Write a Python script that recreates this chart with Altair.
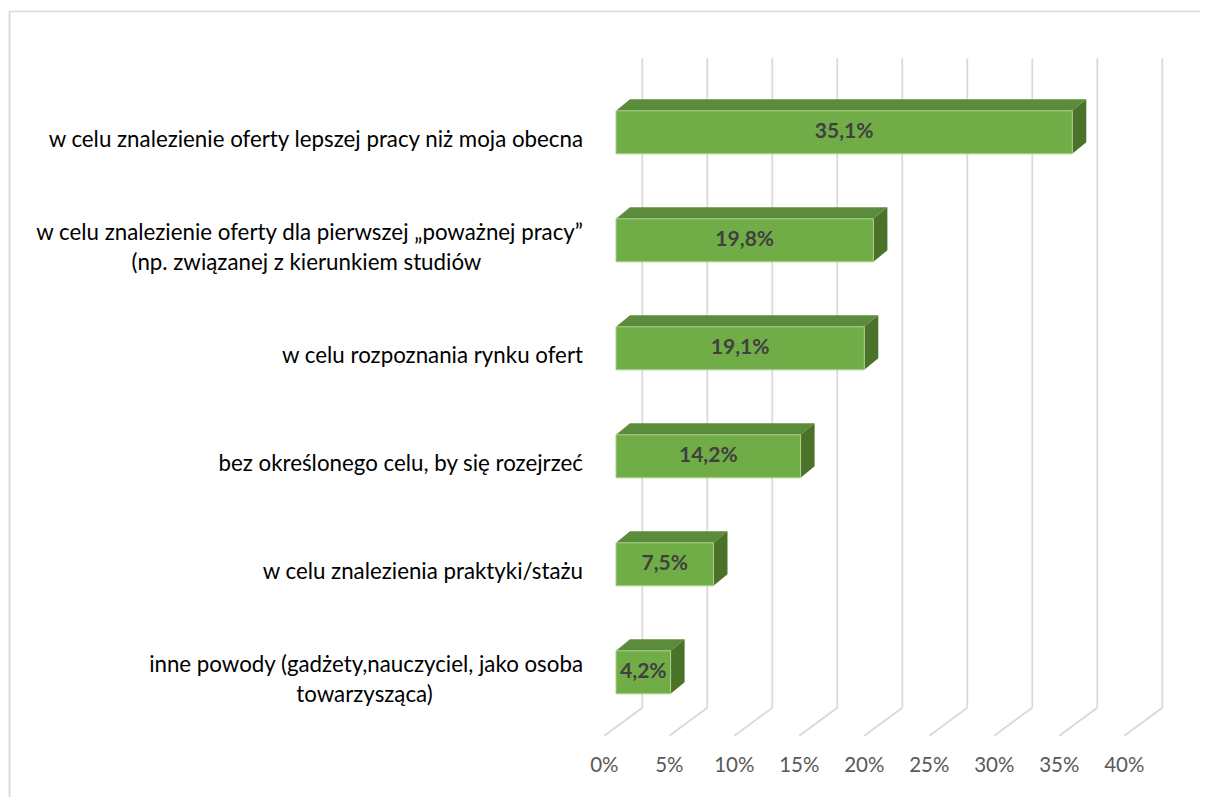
import altair as alt
import pandas as pd

# ---------------- data ----------------
category_lines = [
    ["w celu znalezienie oferty lepszej pracy niż moja obecna"],
    ["w celu znalezienie oferty dla pierwszej „poważnej pracy”", "(np. związanej z kierunkiem studiów"],
    ["w celu rozpoznania rynku ofert"],
    ["bez określonego celu, by się rozejrzeć"],
    ["w celu znalezienia praktyki/stażu"],
    ["inne powody (gadżety,nauczyciel, jako osoba", "towarzysząca)"],
]
values = [35.1, 19.8, 19.1, 14.2, 7.5, 4.2]
value_labels = ["35,1%", "19,8%", "19,1%", "14,2%", "7,5%", "4,2%"]
tick_values = [0, 5, 10, 15, 20, 25, 30, 35, 40]
tick_labels = ["0%", "5%", "10%", "15%", "20%", "25%", "30%", "35%", "40%"]

# ---------------- layout (pixels) ----------------
W, H = 1192, 789
X0 = 608.0          # x of 0% on the bars' front plane
PX = 13.0           # pixels per percent
Y0 = 124.3          # centre of first bar
STEP = 108.0        # distance between bars
BAR_H = 43.0
DEPTH_DX, DEPTH_DY = 14.0, 11.5
WALL_DX = 26.3
FLOOR_DX = -11.7
GRID_TOP = 50.3
WALL_BOTTOM = 699.7
FLOOR_FRONT = 727.7
TICK_Y = 758.0
LABEL_GAP = 33.0
LABEL_DY = 8.0
LINE_H = 30.0
LINE1_W = {1: 553.0, 5: 437.0}   # approx. width of first line of wrapped labels

FONT = "Lato"
FRONT = "#70AD47"
TOP = "#5B8C3B"
SIDE = "#4A7229"
GRID = "#D9D9D9"

xs = alt.Scale(domain=[-X0 / PX, (W - X0) / PX], nice=False, zero=False)
ys = alt.Scale(domain=[-Y0 / STEP, (H - Y0) / STEP], nice=False, zero=False, reverse=True)

dxp = DEPTH_DX / PX
dyi = DEPTH_DY / STEP
half = BAR_H / 2 / STEP

bars = pd.DataFrame({
    "idx": list(range(len(values))),
    "value": values,
    "label": value_labels,
})
bars["zero"] = 0.0
bars["top"] = bars["idx"] - half
bars["bot"] = bars["idx"] + half
bars["mid"] = bars["value"] / 2

top_rows, side_rows = [], []
for i, v in enumerate(values):
    t, b = i - half, i + half
    top_rows.append({"idx": i, "y": t, "x": 0.0, "x2": v})
    top_rows.append({"idx": i, "y": t - dyi, "x": dxp, "x2": v + dxp})
    side_rows.append({"idx": i, "x": v, "y": t, "y2": b})
    side_rows.append({"idx": i, "x": v + dxp, "y": t - dyi, "y2": b - dyi})
top_df = pd.DataFrame(top_rows)
side_df = pd.DataFrame(side_rows)

ticks = pd.DataFrame({"v": tick_values, "label": tick_labels})

right_edge = -LABEL_GAP / PX
line1_rows, line2_rows = [], []
for i, lines in enumerate(category_lines):
    if len(lines) == 1:
        line1_rows.append({"x": right_edge, "y": i + LABEL_DY / STEP, "t": lines[0]})
    else:
        line1_rows.append({"x": right_edge, "y": i + (LABEL_DY - LINE_H / 2) / STEP, "t": lines[0]})
        cx = right_edge - LINE1_W[i] / 2 / PX
        line2_rows.append({"x": cx, "y": i + (LABEL_DY + LINE_H / 2) / STEP, "t": lines[1]})
line1_df = pd.DataFrame(line1_rows)
line2_df = pd.DataFrame(line2_rows)

# ---------------- layers ----------------
one = alt.Data(values=[{}])
frame_top = alt.Chart(one).mark_rule(color=GRID, strokeWidth=1.3).encode(
    x=alt.value(1), x2=alt.value(W + 20), y=alt.value(3.5)
)
frame_left = alt.Chart(one).mark_rule(color=GRID, strokeWidth=1.8).encode(
    x=alt.value(1.5), y=alt.value(3.5), y2=alt.value(H + 20)
)

grid = alt.Chart(ticks).mark_rule(color=GRID, strokeWidth=1.8, xOffset=WALL_DX).encode(
    x=alt.X("v:Q", scale=xs, axis=None),
    y=alt.value(GRID_TOP), y2=alt.value(WALL_BOTTOM),
)
diag = alt.Chart(ticks).mark_rule(color=GRID, strokeWidth=1.8, xOffset=WALL_DX, x2Offset=FLOOR_DX).encode(
    x=alt.X("v:Q", scale=xs, axis=None), x2="v:Q",
    y=alt.value(WALL_BOTTOM), y2=alt.value(FLOOR_FRONT),
)

top_face = alt.Chart(top_df).mark_area(orient="horizontal", color=TOP).encode(
    y=alt.Y("y:Q", scale=ys, axis=None),
    x=alt.X("x:Q", scale=xs, axis=None, stack=None), x2="x2:Q",
    detail="idx:N",
)
side_face = alt.Chart(side_df).mark_area(orient="vertical", color=SIDE).encode(
    x=alt.X("x:Q", scale=xs, axis=None),
    y=alt.Y("y:Q", scale=ys, axis=None, stack=None), y2="y2:Q",
    detail="idx:N",
)
front_face = alt.Chart(bars).mark_rect(color=FRONT, stroke="#A9D18E", strokeWidth=1).encode(
    x=alt.X("zero:Q", scale=xs, axis=None), x2="value:Q",
    y=alt.Y("top:Q", scale=ys, axis=None), y2="bot:Q",
)
value_text = alt.Chart(bars).mark_text(
    font=FONT, fontWeight="bold", fontSize=21, color="#404040", align="center", baseline="middle"
).encode(
    x=alt.X("mid:Q", scale=xs, axis=None),
    y=alt.Y("idx:Q", scale=ys, axis=None),
    text="label:N",
)
tick_text = alt.Chart(ticks).mark_text(
    font=FONT, fontSize=20.5, color="#595959", align="center", baseline="middle", xOffset=FLOOR_DX
).encode(
    x=alt.X("v:Q", scale=xs, axis=None),
    y=alt.value(TICK_Y),
    text="label:N",
)
cat1 = alt.Chart(line1_df).mark_text(
    font=FONT, fontSize=22.3, color="#000000", align="right", baseline="middle"
).encode(
    x=alt.X("x:Q", scale=xs, axis=None),
    y=alt.Y("y:Q", scale=ys, axis=None),
    text="t:N",
)
cat2 = alt.Chart(line2_df).mark_text(
    font=FONT, fontSize=22.3, color="#000000", align="center", baseline="middle"
).encode(
    x=alt.X("x:Q", scale=xs, axis=None),
    y=alt.Y("y:Q", scale=ys, axis=None),
    text="t:N",
)

chart = alt.layer(
    frame_top, frame_left, grid, diag, top_face, side_face, front_face,
    value_text, tick_text, cat1, cat2
).properties(
    width=W, height=H, autosize="none", padding=0
).configure_view(stroke=None)

chart.save("out.html", embed_options={"renderer": "svg", "actions": False})
